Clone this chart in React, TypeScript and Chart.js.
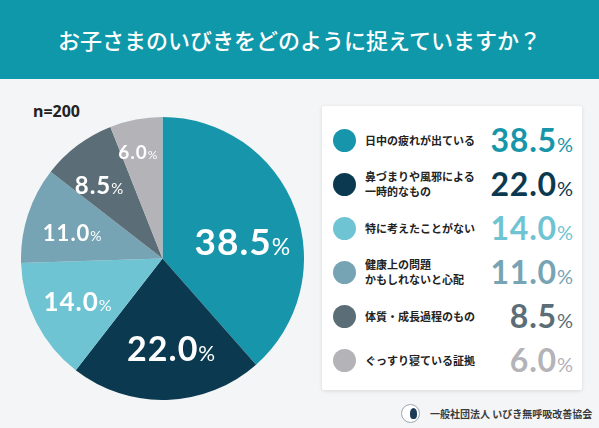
import React, { useEffect, useRef } from "react";
import { Chart, registerables } from "chart.js";

Chart.register(...registerables);

const title = "お子さまのいびきをどのように捉えていますか？";
const sampleLabel = "n=200";
const categories = [
  "日中の疲れが出ている",
  "鼻づまりや風邪による\n一時的なもの",
  "特に考えたことがない",
  "健康上の問題\nかもしれないと心配",
  "体質・成長過程のもの",
  "ぐっすり寝ている証拠",
];
const values = [38.5, 22.0, 14.0, 11.0, 8.5, 6.0];
const colors = ["#1796ab", "#0b3a50", "#6fc4d4", "#77a4b4", "#5b6e77", "#b3b3b8"];
const footerText = "一般社団法人 いびき無呼吸改善協会";

// style only
const labelFontSizes = [37, 34, 26, 22, 24, 19];
const labelRadius = [0.58, 0.64, 0.67, 0.66, 0.68, 0.77];
const labelAngleShift = [9, -4, 0, -2, -4, -2];

const NUM_FONT = "Lato, 'DejaVu Sans', sans-serif";
const JP_FONT = "'Noto Sans CJK JP', 'Noto Sans', sans-serif";

const pieLabels = {
  id: "pieLabels",
  afterDatasetsDraw(chart: any) {
    const ctx = chart.ctx;
    const meta = chart.getDatasetMeta(0);
    meta.data.forEach((arc: any, i: number) => {
      const p = arc.getProps(["x", "y", "startAngle", "endAngle", "outerRadius"], true);
      const mid = (p.startAngle + p.endAngle) / 2 + (labelAngleShift[i] * Math.PI) / 180;
      const r = p.outerRadius * labelRadius[i];
      const cx = p.x + Math.cos(mid) * r;
      const cy = p.y + Math.sin(mid) * r;
      const num = values[i].toFixed(1);
      const s = labelFontSizes[i];
      ctx.save();
      ctx.fillStyle = "#ffffff";
      ctx.textBaseline = "alphabetic";
      ctx.textAlign = "left";
      try {
        (ctx as any).letterSpacing = "1px";
      } catch (e) {}
      const bold = `700 ${s}px ${NUM_FONT}`;
      const light = `400 ${Math.round(s * 0.62)}px ${NUM_FONT}`;
      ctx.font = bold;
      const w1 = ctx.measureText(num).width;
      ctx.font = light;
      const w2 = ctx.measureText("%").width;
      const left = cx - (w1 + w2) / 2;
      const base = cy + s * 0.36;
      ctx.font = bold;
      ctx.fillText(num, left, base);
      ctx.font = light;
      ctx.fillText("%", left + w1, base);
      ctx.restore();
    });
  },
};

function PieChart() {
  const ref = useRef<HTMLCanvasElement | null>(null);
  useEffect(() => {
    if (!ref.current) return;
    const chart = new Chart(ref.current, {
      type: "pie",
      data: {
        labels: categories.map((c) => c.replace("\n", "")),
        datasets: [
          {
            data: values,
            backgroundColor: colors,
            borderWidth: 0,
          },
        ],
      },
      options: {
        responsive: false,
        animation: false,
        layout: { padding: 0 },
        plugins: {
          legend: { display: false },
          tooltip: { enabled: false },
        },
      },
      plugins: [pieLabels],
    });
    return () => chart.destroy();
  }, []);
  return <canvas ref={ref} width={283} height={283} style={{ width: 283, height: 283 }} />;
}

export default function App() {
  useEffect(() => {
    document.body.style.margin = "0";
  }, []);
  return (
    <div
      style={{
        position: "absolute",
        left: 0,
        top: 0,
        width: 599,
        height: 428,
        background: "#f4f5f7",
        overflow: "hidden",
        fontFamily: JP_FONT,
      }}
    >
      <div
        style={{
          position: "absolute",
          left: 0,
          top: 0,
          width: 599,
          height: 79,
          background: "#0e98a9",
          color: "#fff",
          display: "flex",
          alignItems: "center",
          justifyContent: "center",
          fontSize: 22,
          fontWeight: 500,
          paddingBottom: 2,
          boxSizing: "border-box",
        }}
      >
        {title}
      </div>
      <div
        style={{
          position: "absolute",
          left: 33,
          top: 100,
          fontFamily: "'Noto Sans', " + JP_FONT,
          fontWeight: 700,
          fontSize: 16,
          color: "#222",
        }}
      >
        {sampleLabel}
      </div>
      <div style={{ position: "absolute", left: 21, top: 117, width: 283, height: 283 }}>
        <PieChart />
      </div>
      <div
        style={{
          position: "absolute",
          left: 322,
          top: 106,
          width: 260,
          height: 284,
          background: "#ffffff",
          borderRadius: 2,
          boxShadow: "0 1px 4px rgba(0,0,0,0.12)",
        }}
      >
        {categories.map((c, i) => (
          <div
            key={i}
            style={{
              position: "absolute",
              left: 0,
              top: 12 + i * 44,
              width: 260,
              height: 44,
              display: "flex",
              alignItems: "center",
            }}
          >
            <div
              style={{
                position: "absolute",
                left: 11,
                width: 23,
                height: 23,
                borderRadius: "50%",
                background: colors[i],
              }}
            />
            <div
              style={{
                position: "absolute",
                left: 43,
                fontSize: 11,
                fontWeight: 700,
                lineHeight: "15px",
                color: "#222",
                whiteSpace: "pre",
              }}
            >
              {c}
            </div>
            <div
              style={{
                position: "absolute",
                right: 9,
                top: 0,
                height: 44,
                display: "flex",
                alignItems: "center",
                color: colors[i],
                fontFamily: NUM_FONT,
                lineHeight: 1,
              }}
            >
              <span style={{ fontSize: 32, fontWeight: 700, letterSpacing: 0.8 }}>
                {values[i].toFixed(1)}
              </span>
              <span style={{ fontSize: 20, fontWeight: 400, marginTop: 8, marginLeft: 0 }}>%</span>
            </div>
          </div>
        ))}
      </div>
      <div
        style={{
          position: "absolute",
          left: 401,
          top: 403,
          height: 20,
          display: "flex",
          alignItems: "center",
        }}
      >
        <div
          style={{
            width: 19,
            height: 19,
            borderRadius: "50%",
            border: "1px solid #9aa7b0",
            background: "#fff",
            position: "relative",
            overflow: "hidden",
            boxSizing: "border-box",
          }}
        >
          <div
            style={{
              position: "absolute",
              left: 8,
              top: 3,
              width: 7,
              height: 11,
              borderRadius: "50% 50% 40% 40%",
              background: "#1c3a55",
            }}
          />
        </div>
        <div style={{ marginLeft: 10, fontSize: 10, fontWeight: 700, color: "#3a3a3a" }}>
          {footerText}
        </div>
      </div>
    </div>
  );
}
